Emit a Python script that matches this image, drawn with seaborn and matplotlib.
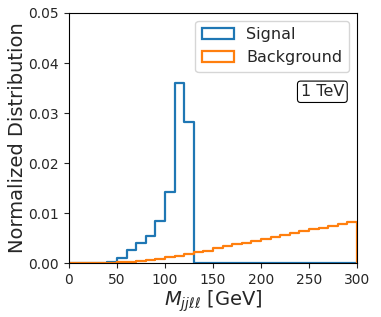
import numpy as np
import pandas as pd
import matplotlib
matplotlib.use("Agg")
import matplotlib.pyplot as plt
import seaborn as sns
from matplotlib.patches import Patch

# bin edges (GeV)
bin_edges = list(range(0, 310, 10))
# normalized density per 10 GeV bin
signal = [0, 0, 0, 0, 0.0003, 0.0010, 0.0027, 0.0041, 0.0055, 0.0085,
          0.0143, 0.0360, 0.0282, 0, 0, 0, 0, 0, 0, 0,
          0, 0, 0, 0, 0, 0, 0, 0, 0, 0]
background = [0.0, 0.0, 0.00003, 0.00006, 0.0001, 0.0002, 0.0003, 0.0005, 0.0007, 0.0009,
              0.0012, 0.0015, 0.0019, 0.0022, 0.0025, 0.0030, 0.0034, 0.0038, 0.0041, 0.0045,
              0.0049, 0.0053, 0.0057, 0.0061, 0.0064, 0.0068, 0.0071, 0.0075, 0.0079, 0.0082]
labels = ["Signal", "Background"]
colors = ["#1f77b4", "#ff7f0e"]

sns.set_style("ticks")
plt.rcParams["font.family"] = ["DejaVu Sans"]

fig = plt.figure(figsize=(3.81, 3.17), dpi=100)
ax = fig.add_axes([0.181, 0.170, 0.756, 0.789])

edges = np.array(bin_edges, dtype=float)
centers = (edges[:-1] + edges[1:]) / 2
# append an empty bin past the view so the step closes to zero at the last edge
ext_centers = np.append(centers, edges[-1] + 5)
width = edges[1] - edges[0]

for vals, lab, col in zip([signal, background], labels, colors):
    w = np.append(np.array(vals, dtype=float), 0.0)
    df = pd.DataFrame({"m": ext_centers, "w": w})
    sns.histplot(data=df, x="m", weights="w", binwidth=width,
                 binrange=(edges[0], edges[-1] + width), stat="count",
                 element="step", fill=False, color=col, linewidth=1.6, ax=ax)

ax.set_xlim(0, 300)
ax.set_ylim(0, 0.05)
ax.set_xticks(range(0, 301, 50))
ax.set_yticks(np.arange(0, 0.051, 0.01))
ax.set_yticklabels([f"{v:.2f}" for v in np.arange(0, 0.051, 0.01)])
ax.tick_params(labelsize=10, length=3.5, width=0.8)
for s in ax.spines.values():
    s.set_linewidth(0.8)
    s.set_color("black")
ax.set_xlabel(r"$M_{jj\ell\ell}$ [GeV]", fontsize=14, labelpad=1)
ax.set_ylabel("Normalized Distribution", fontsize=14, labelpad=1)

handles = [Patch(facecolor="none", edgecolor=c, linewidth=1.6) for c in colors]
ax.legend(handles, labels, loc="upper right", fontsize=11.5, frameon=True,
          borderaxespad=0.5, handlelength=2.0)
ax.text(0.955, 0.685, "1 TeV", transform=ax.transAxes, ha="right", va="center",
        fontsize=11.5, bbox=dict(boxstyle="round,pad=0.2", facecolor="white",
                                 edgecolor="black", linewidth=0.8))

fig.savefig("out.png", dpi=100)
